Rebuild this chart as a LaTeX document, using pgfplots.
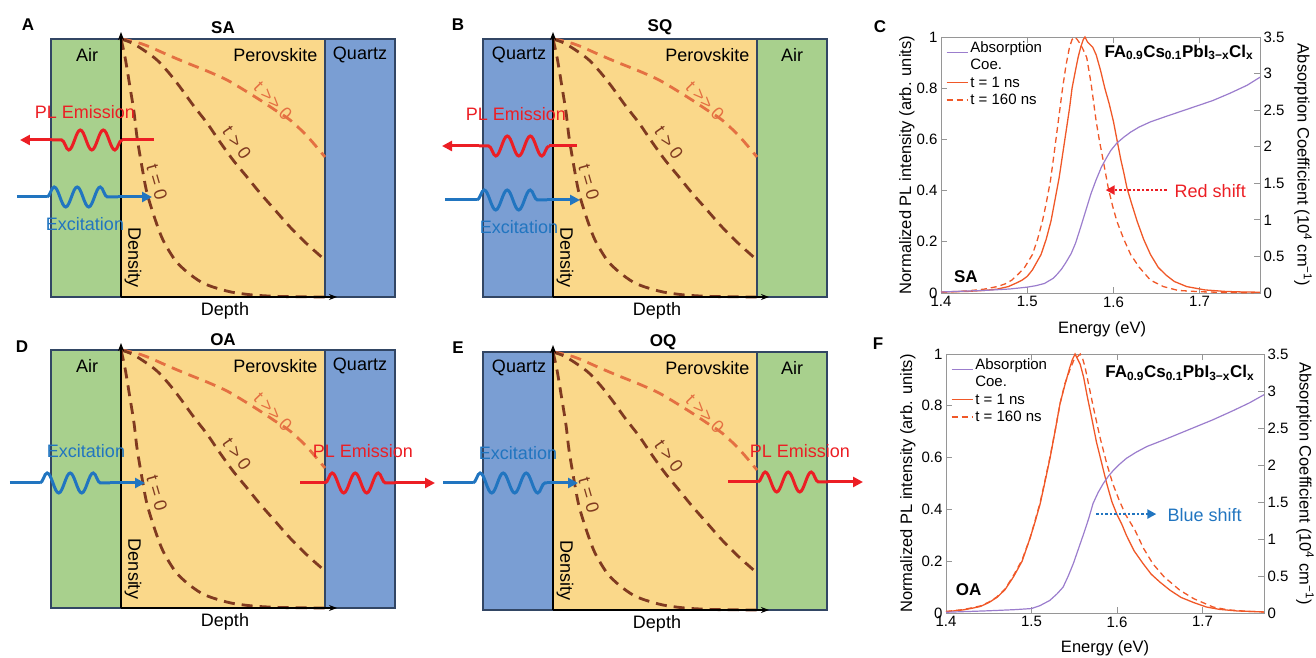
\documentclass[border=0pt]{standalone}
\usepackage{fontspec}
\setmainfont{Liberation Sans}
\usepackage{pgfplots}
\usepackage{pgfplotstable}
\pgfplotsset{compat=1.18}
\usetikzlibrary{arrows.meta,decorations.pathmorphing}

\definecolor{airgreen}{RGB}{168,208,141}
\definecolor{perov}{RGB}{250,216,138}
\definecolor{quartz}{RGB}{122,158,211}
\definecolor{boxedge}{RGB}{50,70,100}
\definecolor{dbrown}{RGB}{128,58,32}
\definecolor{lorange}{RGB}{228,112,66}
\definecolor{emred}{RGB}{236,30,36}
\definecolor{exblue}{RGB}{33,117,192}
\definecolor{plorange}{RGB}{240,88,40}
\definecolor{abspurple}{RGB}{155,125,205}
\definecolor{framegray}{RGB}{150,150,150}

\newcommand{\lab}{\fontsize{18}{21}\selectfont}
\newcommand{\ttl}{\fontsize{17}{20}\selectfont\bfseries}

% carrier density profiles, x in px from panel left edge (perovskite 70..274)
\pgfplotstableread{
x y
70 258
74 240
79 210
83 185
86 160
91 130
96 104
104 78
112 57
124 37
136 25
150 15
162 10
180 5
202 2
230 0.5
274 0
}\tzero
\pgfplotstableread{
x y
70 258
81 254
94 246
106 237
118 224
129 210
142 192
156 174
169 155
182 137
196 120
209 104
224 87
239 70
256 53
274 37
}\tmid
\pgfplotstableread{
x y
70 258
76 257
88 254
99 250
117 242
136 234
156 226
176 217
193 207
209 197
224 187
239 177
256 161
274 140
}\tlong

% panel C
\pgfplotstableread{
x y
1.40 0.004
1.43 0.006
1.45 0.010
1.465 0.015
1.478 0.025
1.488 0.040
1.494 0.050
1.500 0.065
1.506 0.090
1.511 0.120
1.516 0.150
1.522 0.210
1.5275 0.280
1.532 0.360
1.537 0.450
1.541 0.540
1.545 0.630
1.549 0.720
1.552 0.800
1.556 0.870
1.559 0.920
1.562 0.960
1.565 0.990
1.567 1.000
1.570 0.980
1.573 0.970
1.576 0.960
1.580 0.930
1.585 0.870
1.590 0.800
1.595 0.740
1.600 0.670
1.604 0.600
1.6086 0.520
1.612 0.470
1.6157 0.410
1.621 0.350
1.6275 0.280
1.635 0.210
1.643 0.150
1.652 0.100
1.661 0.070
1.6706 0.045
1.685 0.025
1.706 0.012
1.730 0.006
1.750 0.004
1.770 0.003
}\plCa
\pgfplotstableread{
x y
1.40 0.003
1.43 0.008
1.45 0.015
1.465 0.025
1.474 0.035
1.482 0.050
1.490 0.075
1.497 0.100
1.506 0.150
1.512 0.210
1.5176 0.280
1.522 0.350
1.527 0.440
1.531 0.540
1.536 0.670
1.541 0.800
1.545 0.890
1.549 0.960
1.552 0.990
1.555 1.000
1.558 0.990
1.562 0.970
1.565 0.950
1.569 0.920
1.574 0.820
1.580 0.670
1.584 0.590
1.588 0.520
1.594 0.410
1.599 0.340
1.604 0.280
1.612 0.210
1.620 0.150
1.630 0.100
1.643 0.050
1.658 0.025
1.675 0.010
1.700 0.005
1.730 0.002
1.770 0.001
}\plCb
\pgfplotstableread{
x y
1.40 0.014
1.45 0.035
1.48 0.055
1.50 0.080
1.51 0.100
1.52 0.130
1.53 0.200
1.535 0.260
1.54 0.330
1.545 0.420
1.551 0.540
1.556 0.680
1.562 0.900
1.568 1.130
1.574 1.360
1.580 1.550
1.586 1.720
1.592 1.850
1.597 1.950
1.604 2.050
1.612 2.130
1.620 2.200
1.630 2.270
1.643 2.340
1.660 2.410
1.675 2.470
1.695 2.550
1.715 2.630
1.735 2.730
1.755 2.840
1.770 2.950
}\absC

% panel F
\pgfplotstableread{
x y
1.40 0.005
1.42 0.012
1.43 0.018
1.44 0.025
1.45 0.040
1.4595 0.060
1.469 0.090
1.479 0.140
1.489 0.200
1.4984 0.290
1.504 0.350
1.510 0.420
1.516 0.510
1.5218 0.600
1.528 0.710
1.5335 0.810
1.539 0.880
1.545 0.950
1.548 0.980
1.551 1.000
1.554 0.980
1.557 0.960
1.561 0.910
1.565 0.840
1.570 0.760
1.576 0.660
1.582 0.580
1.588 0.500
1.594 0.430
1.600 0.380
1.606 0.340
1.611 0.300
1.620 0.240
1.6307 0.190
1.640 0.150
1.650 0.120
1.662 0.088
1.675 0.060
1.690 0.040
1.7047 0.023
1.720 0.014
1.740 0.008
1.772 0.004
}\plFa
\pgfplotstableread{
x y
1.40 0.006
1.42 0.013
1.43 0.020
1.44 0.027
1.45 0.042
1.4595 0.062
1.469 0.092
1.479 0.145
1.489 0.205
1.4984 0.290
1.504 0.355
1.510 0.425
1.516 0.515
1.5218 0.605
1.528 0.710
1.5335 0.810
1.539 0.885
1.545 0.940
1.550 0.980
1.554 0.990
1.557 1.000
1.560 0.980
1.5626 0.950
1.567 0.880
1.572 0.800
1.580 0.680
1.588 0.577
1.595 0.500
1.602 0.440
1.610 0.380
1.621 0.320
1.631 0.250
1.642 0.190
1.655 0.140
1.6735 0.088
1.690 0.055
1.7125 0.023
1.730 0.012
1.750 0.007
1.772 0.004
}\plFb
\pgfplotstableread{
x y
1.40 0.010
1.45 0.030
1.48 0.045
1.50 0.060
1.51 0.100
1.5214 0.170
1.530 0.260
1.537 0.350
1.543 0.500
1.549 0.670
1.555 0.870
1.561 1.070
1.567 1.280
1.572 1.480
1.578 1.630
1.584 1.750
1.590 1.850
1.596 1.930
1.603 2.010
1.611 2.090
1.622 2.170
1.635 2.250
1.655 2.340
1.674 2.430
1.693 2.520
1.712 2.610
1.735 2.730
1.755 2.840
1.772 2.950
}\absF

\pgfplotsset{
  schem/.style={
    scale only axis, width=344pt, height=258pt,
    xmin=0, xmax=344, ymin=0, ymax=258,
    hide axis, clip=false, anchor=south west,
  },
  plpanel/.style={
    scale only axis, anchor=south west, clip=false,
    xmin=1.4, ymin=0,
    xtick={1.4,1.5,1.6,1.7},
    axis line style={draw=framegray, line width=0.9pt},
    tick style={framegray, line width=0.9pt},
    major tick length=6pt,
    ticklabel style={font=\fontsize{15}{18}\selectfont, text=black},
    /pgf/number format/assume math mode=true,
    label style={font=\fontsize{16.5}{19}\selectfont},
  },
  pllegend/.style={
    legend style={at={(0.012,0.995)}, anchor=north west, draw=none, fill=none,
      font=\fontsize{15}{18}\selectfont, row sep=1.5pt, inner sep=1pt},
    legend cell align=left,
    legend image code/.code={\draw[##1] (0pt,0pt) -- (21pt,0pt);},
  },
  % absorption legend line sits at the baseline of "Absorption"
  abslegend/.style={
    legend image code/.code={\draw[##1] (0pt,-5pt) -- (21pt,-5pt);},
  },
}

% boxes, density profiles and axes arrows of a schematic panel
\newcommand{\schembase}[4]{%
  \addplot[fill=#1, draw=boxedge, line width=1.2pt] coordinates {(0,258) (70,258)} \closedcycle;
  \addplot[fill=perov, draw=boxedge, line width=1.2pt] coordinates {(70,258) (274,258)} \closedcycle;
  \addplot[fill=#3, draw=boxedge, line width=1.2pt] coordinates {(274,258) (344,258)} \closedcycle;
  \addplot[lorange, line width=2.8pt, dash pattern=on 11pt off 7pt, smooth] table {\tlong};
  \addplot[dbrown, line width=2.8pt, dash pattern=on 11pt off 7pt, smooth] table {\tmid};
  \addplot[dbrown, line width=2.8pt, dash pattern=on 11pt off 7pt, smooth] table {\tzero};
  \draw[line width=1.3pt, -{Stealth[length=8pt,width=6pt]}] (axis cs:70,0) -- (axis cs:70,265);
  \draw[line width=1.3pt, -{Stealth[length=8pt,width=6pt]}] (axis cs:70,0) -- (axis cs:286,0);
  \node[font=\lab] at (axis cs:36,242) {#2};
  \node[font=\lab, anchor=east] at (axis cs:270,242) {Perovskite};
  \node[font=\lab] at (axis cs:309,242) {#4};
  \node[font=\lab, rotate=-90] at (axis cs:82,39) {Density};
  \node[font=\lab] at (axis cs:174,-14) {Depth};
  \node[font=\lab, text=dbrown, rotate=-74] at (axis cs:106,115) {t = 0};
  \node[font=\lab, text=dbrown, rotate=-55] at (axis cs:186,154) {t > 0};
  \node[font=\lab, text=lorange, rotate=-46] at (axis cs:222,196) {t >{}> 0};
}
% straight lead, wave, straight lead with arrow tip
\newcommand{\wavearrow}[6]{%
  \draw[#1, line width=3pt] (axis cs:#3,#2) -- (axis cs:#4,#2);
  \draw[#1, line width=3pt, decorate, decoration={snake, amplitude=10pt, segment length=23pt}] (axis cs:#4,#2) -- (axis cs:#5,#2);
  \draw[#1, line width=3pt, -{Triangle[length=10pt,width=10pt]}] (axis cs:#5,#2) -- (axis cs:#6,#2);
}

\begin{document}
\begin{tikzpicture}
\useasboundingbox (0pt,0pt) rectangle (1316pt,658pt);

% A
\begin{axis}[schem, at={(51pt,361pt)}]
  \schembase{airgreen}{Air}{quartz}{Quartz}
  \wavearrow{emred}{157}{103}{71}{1}{-31}
  \wavearrow{exblue}{100}{-34}{-4}{67}{101}
  \node[font=\lab, text=emred] at (axis cs:34,185) {PL Emission};
  \node[font=\lab, text=exblue] at (axis cs:34,73) {Excitation};
  \node[font=\ttl] at (axis cs:172,269) {SA};
  \node[font=\ttl] at (axis cs:-23,272) {A};
\end{axis}

% B
\begin{axis}[schem, at={(483pt,361pt)}]
  \schembase{quartz}{Quartz}{airgreen}{Air}
  \wavearrow{emred}{151}{94}{66}{-4}{-41}
  \wavearrow{exblue}{97}{-38}{-6}{64}{97}
  \node[font=\lab, text=emred] at (axis cs:33,183) {PL Emission};
  \node[font=\lab, text=exblue] at (axis cs:36,70) {Excitation};
  \node[font=\ttl] at (axis cs:177,270) {SQ};
  \node[font=\ttl] at (axis cs:-25,272) {B};
\end{axis}

% D
\begin{axis}[schem, at={(51pt,50pt)}]
  \schembase{airgreen}{Air}{quartz}{Quartz}
  \wavearrow{exblue}{125}{-41}{-11}{59}{94}
  \wavearrow{emred}{125}{249}{274}{344}{384}
  \node[font=\lab, text=exblue] at (axis cs:35,157) {Excitation};
  \node[font=\lab, text=emred] at (axis cs:312,157) {PL Emission};
  \node[font=\ttl] at (axis cs:172,268) {OA};
  \node[font=\ttl] at (axis cs:-29,261) {D};
\end{axis}

% E
\begin{axis}[schem, at={(483pt,48pt)}]
  \schembase{quartz}{Quartz}{airgreen}{Air}
  \wavearrow{exblue}{127}{-40}{-10}{64}{95}
  \wavearrow{emred}{128}{245}{275}{345}{380}
  \node[font=\lab, text=exblue] at (axis cs:35,157) {Excitation};
  \node[font=\lab, text=emred] at (axis cs:317,159) {PL Emission};
  \node[font=\ttl] at (axis cs:180,268) {OQ};
  \node[font=\ttl] at (axis cs:-25,262) {E};
\end{axis}

% C
\begin{axis}[plpanel, at={(941pt,365pt)}, width=319pt, height=256pt,
    xmax=1.77, ymax=1, ytick={0,0.2,0.4,0.6,0.8,1}, ytick pos=left,
    tick align=inside,
    xlabel={Energy (eV)}, ylabel={Normalized PL intensity (arb. units)},
    xlabel style={at={(axis description cs:0.505,-0.141)}, anchor=center},
    ylabel style={at={(axis description cs:-0.107,0.5)}, anchor=center}]
  \addplot[plorange, line width=1.3pt] table {\plCa};
  \addplot[plorange, line width=1.3pt, dash pattern=on 6pt off 4pt] table {\plCb};
  \draw[emred, line width=2.8pt, dash pattern=on 2.5pt off 2pt, -{Triangle[length=9pt,width=9pt]}]
    (axis cs:1.662,0.402) -- (axis cs:1.591,0.402);
  \node[anchor=west, text=emred, font=\fontsize{18}{21}\selectfont] at (axis cs:1.667,0.40) {Red shift};
  \node[anchor=west, font=\fontsize{17}{20}\selectfont\bfseries] at (axis description cs:0.03,0.065) {SA};
  \node[anchor=east, font=\fontsize{17}{20}\selectfont\bfseries] at (axis description cs:0.99,0.94)
    {FA\textsubscript{0.9}Cs\textsubscript{0.1}PbI\textsubscript{3−x}Cl\textsubscript{x}};
  \node[font=\ttl] at (axis description cs:-0.191,1.039) {C};
\end{axis}
\begin{axis}[plpanel, pllegend, at={(941pt,365pt)}, width=319pt, height=256pt,
    xmax=1.77, ymax=3.5, ytick={0,0.5,1,1.5,2,2.5,3,3.5},
    axis x line=none, axis y line*=right, yticklabel pos=right, tick align=inside,
    ylabel={Absorption Coefficient (10\textsuperscript{4} cm\textsuperscript{−1})},
    ylabel style={at={(axis description cs:1.135,0.5)}, anchor=center, rotate=180}]
  \addplot[abspurple, line width=1.2pt, abslegend] table {\absC};
  \addlegendentry{Absorption}
  \addlegendimage{empty legend}
  \addlegendentry{Coe.}
  \addlegendimage{plorange, line width=1.3pt}
  \addlegendentry{t = 1 ns}
  \addlegendimage{plorange, line width=1.3pt, dash pattern=on 6pt off 4pt}
  \addlegendentry{t = 160 ns}
\end{axis}

% F
\begin{axis}[plpanel, at={(946pt,45pt)}, width=318pt, height=259pt,
    xmax=1.772, ymax=1, ytick={0,0.2,0.4,0.6,0.8,1}, ytick pos=left,
    tick align=inside,
    xlabel={Energy (eV)}, ylabel={Normalized PL intensity (arb. units)},
    xlabel style={at={(axis description cs:0.5,-0.135)}, anchor=center},
    ylabel style={at={(axis description cs:-0.12,0.5)}, anchor=center}]
  \addplot[plorange, line width=1.3pt] table {\plFa};
  \addplot[plorange, line width=1.3pt, dash pattern=on 6pt off 4pt] table {\plFb};
  \draw[exblue, line width=2.8pt, dash pattern=on 2.5pt off 2pt, -{Triangle[length=9pt,width=9pt]}]
    (axis cs:1.576,0.382) -- (axis cs:1.646,0.382);
  \node[anchor=west, text=exblue, font=\fontsize{18}{21}\selectfont] at (axis cs:1.655,0.38) {Blue shift};
  \node[anchor=west, font=\fontsize{17}{20}\selectfont\bfseries] at (axis description cs:0.02,0.09) {OA};
  \node[anchor=east, font=\fontsize{17}{20}\selectfont\bfseries] at (axis description cs:0.98,0.927)
    {FA\textsubscript{0.9}Cs\textsubscript{0.1}PbI\textsubscript{3−x}Cl\textsubscript{x}};
  \node[font=\ttl] at (axis description cs:-0.214,1.04) {F};
\end{axis}
\begin{axis}[plpanel, pllegend, at={(946pt,45pt)}, width=318pt, height=259pt,
    xmax=1.772, ymax=3.5, ytick={0,0.5,1,1.5,2,2.5,3,3.5},
    axis x line=none, axis y line*=right, yticklabel pos=right, tick align=inside,
    ylabel={Absorption Coefficient (10\textsuperscript{4} cm\textsuperscript{−1})},
    ylabel style={at={(axis description cs:1.129,0.5)}, anchor=center, rotate=180}]
  \addplot[abspurple, line width=1.2pt, abslegend] table {\absF};
  \addlegendentry{Absorption}
  \addlegendimage{empty legend}
  \addlegendentry{Coe.}
  \addlegendimage{plorange, line width=1.3pt}
  \addlegendentry{t = 1 ns}
  \addlegendimage{plorange, line width=1.3pt, dash pattern=on 6pt off 4pt}
  \addlegendentry{t = 160 ns}
\end{axis}
\end{tikzpicture}
\end{document}
